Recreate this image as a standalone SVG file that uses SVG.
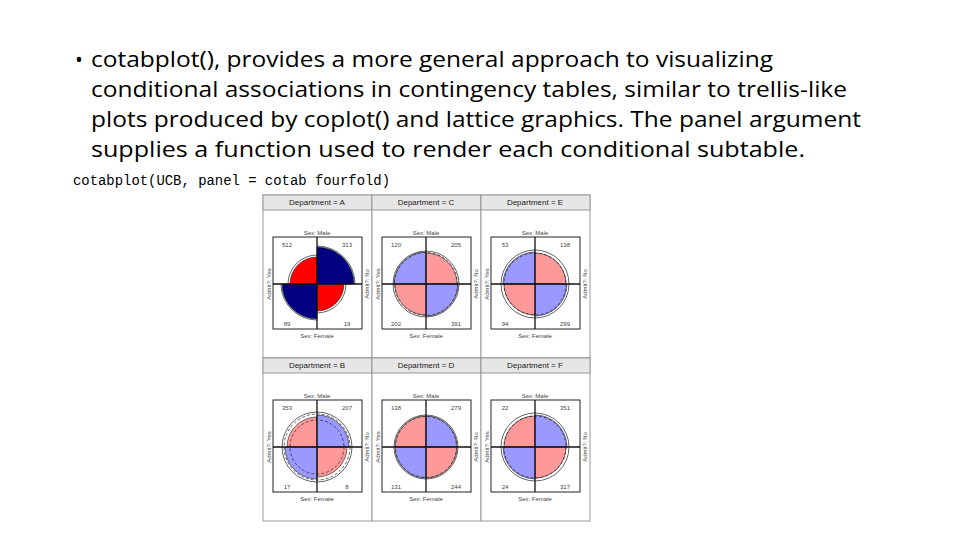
<svg xmlns="http://www.w3.org/2000/svg" width="960" height="540" viewBox="0 0 960 540">
<style>
.b{font-family:"Open Sans","Liberation Sans",sans-serif;font-size:21px;fill:#000}
.c{font-family:"Liberation Mono",monospace;font-size:13.8px;fill:#000}
.s{font-family:"Liberation Sans",Arial,sans-serif;font-size:8px;fill:#222;text-anchor:middle}
.t{font-family:"Liberation Sans",Arial,sans-serif;font-size:6px;fill:#444;text-anchor:middle}
.frame{fill:#fff;stroke:#999;stroke-width:1}
.strip{fill:#e6e6e6;stroke:#999;stroke-width:1}
.box{fill:none;stroke:#222;stroke-width:1}
.ax{stroke:#111;stroke-width:1.3}
.o{fill:none;stroke:#222;stroke-width:0.7}
.d{fill:none;stroke:#222;stroke-width:0.7;stroke-dasharray:3 2}
.q{stroke:#222;stroke-width:0.6}
.R{fill:#ff0000}.N{fill:#000080}.P{fill:#ff9999}.L{fill:#9999ff}
</style>
<g id="text">
<text class="b" x="75" y="67">•</text>
<text class="b" x="91" y="67" textLength="682" lengthAdjust="spacingAndGlyphs">cotabplot(), provides a more general approach to visualizing</text>
<text class="b" x="91" y="97" textLength="756" lengthAdjust="spacingAndGlyphs">conditional associations in contingency tables, similar to trellis-like</text>
<text class="b" x="91" y="127" textLength="770" lengthAdjust="spacingAndGlyphs">plots produced by coplot() and lattice graphics. The panel argument</text>
<text class="b" x="91" y="157" textLength="714" lengthAdjust="spacingAndGlyphs">supplies a function used to render each conditional subtable.</text>
<text class="c" x="73" y="185" textLength="317" lengthAdjust="spacingAndGlyphs">cotabplot(UCB, panel = cotab fourfold)</text>
</g>
<defs>
<g id="base">
<rect class="frame" x="-54" y="-89" width="109" height="163"/>
<rect class="strip" x="-54" y="-89" width="109" height="15"/>
<rect class="box" x="-44" y="-47" width="89" height="92"/>
<text class="t" x="0" y="-49">Sex: Male</text>
<text class="t" x="0" y="54">Sex: Female</text>
<text class="t" transform="translate(-46,0) rotate(-90)">Admit?: Yes</text>
<text class="t" transform="translate(52,0) rotate(-90)">Admit?: No</text>
</g>
<g id="axes">
<line class="ax" x1="-44" y1="0" x2="45" y2="0"/>
<line class="ax" x1="0" y1="-47" x2="0" y2="45"/>
</g>
</defs>
<g id="panel-A" transform="translate(317,284)">
<use href="#base"/><text class="s" x="0" y="-79">Department = A</text>
<path class="q R" d="M0,0 L-27,0 A27 27 0 0 1 0,-27Z"/>
<path class="q N" d="M0,0 L0,-37 A37 37 0 0 1 37,0Z"/>
<path class="q R" d="M0,0 L27,0 A27 27 0 0 1 0,27Z"/>
<path class="q N" d="M0,0 L0,35 A35 35 0 0 1 -35,0Z"/>
<path class="o" d="M-29,0 A29 29 0 0 1 0,-29 M0,-38 A38 38 0 0 1 38,0 M29,0 A29 29 0 0 1 0,29 M0,36 A36 36 0 0 1 -36,0"/>
<use href="#axes"/>
<text class="t" x="-30" y="-37">512</text><text class="t" x="30" y="-37">313</text>
<text class="t" x="-30" y="42">89</text><text class="t" x="30" y="42">19</text>
</g>
<g id="panel-C" transform="translate(426,284)">
<use href="#base"/><text class="s" x="0" y="-79">Department = C</text>
<path class="q L" d="M0,0 L-32,0 A32 32 0 0 1 0,-32Z"/>
<path class="q P" d="M0,0 L0,-31 A31 31 0 0 1 31,0Z"/>
<path class="q L" d="M0,0 L32,0 A32 32 0 0 1 0,32Z"/>
<path class="q P" d="M0,0 L0,31 A31 31 0 0 1 -31,0Z"/>
<circle class="o" r="33"/><circle class="d" r="31.5"/>
<use href="#axes"/>
<text class="t" x="-30" y="-37">120</text><text class="t" x="30" y="-37">205</text>
<text class="t" x="-30" y="42">202</text><text class="t" x="30" y="42">391</text>
</g>
<g id="panel-E" transform="translate(535,284)">
<use href="#base"/><text class="s" x="0" y="-79">Department = E</text>
<path class="q L" d="M0,0 L-32,0 A32 32 0 0 1 0,-32Z"/>
<path class="q P" d="M0,0 L0,-31 A31 31 0 0 1 31,0Z"/>
<path class="q L" d="M0,0 L32,0 A32 32 0 0 1 0,32Z"/>
<path class="q P" d="M0,0 L0,31 A31 31 0 0 1 -31,0Z"/>
<circle class="o" r="34"/><circle class="d" r="31"/>
<use href="#axes"/>
<text class="t" x="-30" y="-37">53</text><text class="t" x="30" y="-37">138</text>
<text class="t" x="-30" y="42">94</text><text class="t" x="30" y="42">299</text>
</g>
<g id="panel-B" transform="translate(317,447)">
<use href="#base"/><text class="s" x="0" y="-79">Department = B</text>
<path class="q P" d="M0,0 L-30,0 A30 30 0 0 1 0,-30Z"/>
<path class="q L" d="M0,0 L0,-32 A32 32 0 0 1 32,0Z"/>
<path class="q P" d="M0,0 L30,0 A30 30 0 0 1 0,30Z"/>
<path class="q L" d="M0,0 L0,32 A32 32 0 0 1 -32,0Z"/>
<circle class="o" r="35"/><circle class="d" r="33"/><circle class="d" r="27"/>
<use href="#axes"/>
<text class="t" x="-30" y="-37">353</text><text class="t" x="30" y="-37">207</text>
<text class="t" x="-30" y="42">17</text><text class="t" x="30" y="42">8</text>
</g>
<g id="panel-D" transform="translate(426,447)">
<use href="#base"/><text class="s" x="0" y="-79">Department = D</text>
<path class="q P" d="M0,0 L-31,0 A31 31 0 0 1 0,-31Z"/>
<path class="q L" d="M0,0 L0,-31 A31 31 0 0 1 31,0Z"/>
<path class="q P" d="M0,0 L31,0 A31 31 0 0 1 0,31Z"/>
<path class="q L" d="M0,0 L0,31 A31 31 0 0 1 -31,0Z"/>
<circle class="o" r="32"/><circle class="d" r="30.5"/>
<use href="#axes"/>
<text class="t" x="-30" y="-37">138</text><text class="t" x="30" y="-37">279</text>
<text class="t" x="-30" y="42">131</text><text class="t" x="30" y="42">244</text>
</g>
<g id="panel-F" transform="translate(535,447)">
<use href="#base"/><text class="s" x="0" y="-79">Department = F</text>
<path class="q P" d="M0,0 L-31,0 A31 31 0 0 1 0,-31Z"/>
<path class="q L" d="M0,0 L0,-32 A32 32 0 0 1 32,0Z"/>
<path class="q P" d="M0,0 L31,0 A31 31 0 0 1 0,31Z"/>
<path class="q L" d="M0,0 L0,32 A32 32 0 0 1 -32,0Z"/>
<circle class="o" r="34"/><circle class="d" r="31"/>
<use href="#axes"/>
<text class="t" x="-30" y="-37">22</text><text class="t" x="30" y="-37">351</text>
<text class="t" x="-30" y="42">24</text><text class="t" x="30" y="42">317</text>
</g>
</svg>
